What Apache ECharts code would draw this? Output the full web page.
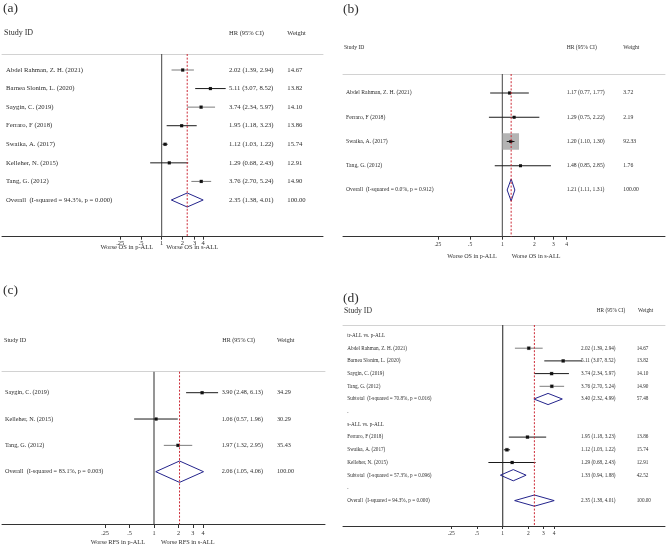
<!DOCTYPE html>
<html><head><meta charset="utf-8">
<script src="https://cdn.jsdelivr.net/npm/echarts@6/dist/echarts.min.js"></script>
<style>html,body{margin:0;padding:0;background:#fff}#c{width:667px;height:547px}</style>
</head><body><div id="c"></div>
<script>
// ---------------- DATA ----------------
const ticksHR = [0.25, 0.5, 1, 2, 3, 4];
const tickLabels = ['.25', '.5', '1', '2', '3', '4'];
const headers = ['Study ID', 'HR (95% CI)', 'Weight'];
const panelLabels = ['(a)', '(b)', '(c)', '(d)'];

// (a) OS, s-ALL vs p-ALL
const studiesA = ['Abdel Rahman, Z. H. (2021)', 'Barnea Slonim, L. (2020)', 'Saygin, C. (2019)', 'Ferraro, F (2018)', 'Swaika, A. (2017)', 'Kelleher, N. (2015)', 'Tang, G. (2012)'];
const hrA = [2.02, 5.11, 3.74, 1.95, 1.12, 1.29, 3.76];
const loA = [1.39, 3.07, 2.34, 1.18, 1.03, 0.68, 2.70];
const hiA = [2.94, 8.52, 5.97, 3.23, 1.22, 2.43, 5.24];
const weightA = [14.67, 13.82, 14.10, 13.86, 15.74, 12.91, 14.90];
const overallA = [2.35, 1.38, 4.01, 100.00];
const overallLabelA = 'Overall  (I-squared = 94.3%, p = 0.000)';
const axisTitlesA = ['Worse OS in p-ALL', 'Worse OS in s-ALL'];

// (b)
const studiesB = ['Abdel Rahman, Z. H. (2021)', 'Ferraro, F (2018)', 'Swaika, A. (2017)', 'Tang, G. (2012)'];
const hrB = [1.17, 1.29, 1.20, 1.48];
const loB = [0.77, 0.75, 1.10, 0.85];
const hiB = [1.77, 2.22, 1.30, 2.85];
const weightB = [3.72, 2.19, 92.33, 1.76];
const overallB = [1.21, 1.11, 1.31, 100.00];
const overallLabelB = 'Overall  (I-squared = 0.0%, p = 0.912)';
const axisTitlesB = ['Worse OS in p-ALL', 'Worse OS in s-ALL'];

// (c) RFS
const studiesC = ['Saygin, C. (2019)', 'Kelleher, N. (2015)', 'Tang, G. (2012)'];
const hrC = [3.90, 1.06, 1.97];
const loC = [2.48, 0.57, 1.32];
const hiC = [6.13, 1.96, 2.95];
const weightC = [34.29, 30.29, 35.43];
const overallC = [2.06, 1.05, 4.06, 100.00];
const overallLabelC = 'Overall  (I-squared = 83.1%, p = 0.003)';
const axisTitlesC = ['Worse RFS in p-ALL', 'Worse RFS in s-ALL'];

// (d) subgroups
const groupLabelsD = ['tr-ALL vs. p-ALL', 's-ALL vs. p-ALL'];
const studiesD1 = ['Abdel Rahman, Z. H. (2021)', 'Barnea Slonim, L. (2020)', 'Saygin, C. (2019)', 'Tang, G. (2012)'];
const hrD1 = [2.02, 5.11, 3.74, 3.76];
const loD1 = [1.39, 3.07, 2.34, 2.70];
const hiD1 = [2.94, 8.52, 5.97, 5.24];
const weightD1 = [14.67, 13.82, 14.10, 14.90];
const subtotalD1 = [3.40, 2.32, 4.99, 57.48];
const subtotalLabelD1 = 'Subtotal  (I-squared = 70.8%, p = 0.016)';
const studiesD2 = ['Ferraro, F (2018)', 'Swaika, A. (2017)', 'Kelleher, N. (2015)'];
const hrD2 = [1.95, 1.12, 1.29];
const loD2 = [1.18, 1.03, 0.68];
const hiD2 = [3.23, 1.22, 2.43];
const weightD2 = [13.86, 15.74, 12.91];
const subtotalD2 = [1.33, 0.94, 1.88, 42.52];
const subtotalLabelD2 = 'Subtotal  (I-squared = 57.3%, p = 0.096)';
const overallD = [2.35, 1.38, 4.01, 100.00];
const overallLabelD = 'Overall  (I-squared = 94.3%, p = 0.000)';

// ---------------- BUILD ROWS ----------------
function studyRows(names, hr, lo, hi, w) {
  return names.map((n, i) => ({type: 'study', name: n, est: hr[i], lo: lo[i], hi: hi[i], w: w[i]}));
}
function pooledRow(label, arr) {
  return {type: 'pooled', name: label, est: arr[0], lo: arr[1], hi: arr[2], w: arr[3]};
}
const rowsA = [...studyRows(studiesA, hrA, loA, hiA, weightA), pooledRow(overallLabelA, overallA)];
const rowsB = [...studyRows(studiesB, hrB, loB, hiB, weightB), pooledRow(overallLabelB, overallB)];
const rowsC = [...studyRows(studiesC, hrC, loC, hiC, weightC), pooledRow(overallLabelC, overallC)];
const rowsD = [
  {type: 'label', name: groupLabelsD[0]},
  ...studyRows(studiesD1, hrD1, loD1, hiD1, weightD1),
  pooledRow(subtotalLabelD1, subtotalD1),
  {type: 'label', name: '.'},
  {type: 'label', name: groupLabelsD[1]},
  ...studyRows(studiesD2, hrD2, loD2, hiD2, weightD2),
  pooledRow(subtotalLabelD2, subtotalD2),
  {type: 'label', name: '.'},
  pooledRow(overallLabelD, overallD)
];

// ---------------- LAYOUT (pixels) ----------------
const FONT = '"Liberation Serif","Times New Roman",serif';
const TXT = '#2e2e2e';
const panels = [
  {rows: rowsA, overall: overallA, titles: axisTitlesA,
   L: {left: 2, right: 323, one: 161.7, ppu: 20.7, top: 54, bottom: 236.7, y0: 70, dy: 18.57,
       labelX: 3, labelY: 8, idX: 4, nameX: 6, hrX: 229, wX: 287.3, headY: 33, headHrX: 229, headWX: 287.3,
       idFont: 8, headFont: 6.5, rowFont: 6.7, tickFont: 6.5, tickLen: 3, tickMargin: 3,
       titleY: 247.5, titleFont: 6.5, gapL: 8.5, gapR: 4.5, dia: 7, boxK: 0.9,
       refColor: '#444', refWidth: 1, grayRows: [0, 2, 6]}},
  {rows: rowsB, overall: overallB, titles: axisTitlesB,
   L: {left: 343, right: 665, one: 502.3, ppu: 32.2, top: 74, bottom: 236.7, y0: 93, dy: 24.25,
       labelX: 343, labelY: 9, idX: 344, nameX: 346, hrX: 566.7, wX: 623.3, headY: 47.3, headHrX: 566.7, headWX: 623.3,
       idFont: 5.6, headFont: 5.6, rowFont: 5.7, tickFont: 5.6, tickLen: 3, tickMargin: 5,
       titleY: 256, titleFont: 6.1, gapL: 5.6, gapR: 9.4, dia: 11, boxK: 1.72,
       refColor: '#444', refWidth: 1, grayRows: []}},
  {rows: rowsC, overall: overallC, titles: axisTitlesC,
   L: {left: 2, right: 325, one: 154, ppu: 24.5, top: 371.7, bottom: 524, y0: 392.7, dy: 26.33,
       labelX: 3, labelY: 290, idX: 4, nameX: 5, hrX: 221.7, wX: 277, headY: 340, headHrX: 222.3, headWX: 277,
       idFont: 6.1, headFont: 6.1, rowFont: 6.2, tickFont: 6.2, tickLen: 4, tickMargin: 6,
       titleY: 542.7, titleFont: 6.3, gapL: 9, gapR: 7, dia: 10.7, boxK: 0.6,
       refColor: '#8a8a8a', refWidth: 1.8, grayRows: [2]}},
  {rows: rowsD, overall: overallD, titles: null,
   L: {left: 343, right: 665, one: 502.7, ppu: 25.7, top: 325, bottom: 526, y0: 335.5, dy: 12.7,
       labelX: 343, labelY: 298, idX: 344, nameX: 347.3, hrX: 581, wX: 636.7, headY: 310.5, headHrX: 596.7, headWX: 638,
       idFont: 7.7, headFont: 5.3, rowFont: 5.2, tickFont: 5.5, tickLen: 3, tickMargin: 5,
       titleY: 0, titleFont: 6, gapL: 6, gapR: 6, dia: 5.6, boxK: 1.0,
       refColor: '#444', refWidth: 1.2, grayRows: [1, 4]}}
];

const log2 = Math.log2;
function labelFor(v) {
  for (let k = 0; k < ticksHR.length; k++) if (Math.abs(log2(ticksHR[k]) - v) < 1e-6) return tickLabels[k];
  return '';
}

const grids = [], xAxes = [], yAxes = [], series = [];
panels.forEach((p, i) => {
  const L = p.L;
  const xmin = (L.left - L.one) / L.ppu, xmax = (L.right - L.one) / L.ppu;
  const ymin = (L.top - L.y0) / L.dy, ymax = (L.bottom - L.y0) / L.dy;
  grids.push({left: L.left, top: L.top, width: L.right - L.left, height: L.bottom - L.top,
              containLabel: false, outerBoundsMode: 'none'});
  const tv = ticksHR.map(log2);
  xAxes.push({gridIndex: i, type: 'value', position: 'bottom', min: xmin, max: xmax,
    axisLine: {show: true, onZero: false, lineStyle: {color: '#333', width: 1}},
    axisTick: {show: true, length: L.tickLen, inside: false, customValues: tv, lineStyle: {color: '#333', width: 1}},
    axisLabel: {show: true, customValues: tv, margin: L.tickMargin, fontSize: L.tickFont, fontFamily: FONT, color: TXT,
                formatter: v => labelFor(v)},
    splitLine: {show: false}});
  xAxes.push({gridIndex: i, type: 'value', position: 'top', min: xmin, max: xmax,
    axisLine: {show: true, onZero: false, lineStyle: {color: '#d2d2d2', width: 1}},
    axisTick: {show: false}, axisLabel: {show: false}, splitLine: {show: false}});
  yAxes.push({gridIndex: i, type: 'value', inverse: true, min: ymin, max: ymax, show: false});
  const xi = 2 * i, yi = i;

  // vertical line at HR = 1
  series.push({type: 'custom', coordinateSystem: 'cartesian2d', xAxisIndex: xi, yAxisIndex: yi, z: 1, silent: true,
    data: [[log2(1), 0]],
    renderItem: (params, api) => {
      const cs = params.coordSys; const x = api.coord([api.value(0), 0])[0];
      return {type: 'line', shape: {x1: x, y1: cs.y, x2: x, y2: cs.y + cs.height},
              style: {stroke: L.refColor, lineWidth: L.refWidth}};
    }});

  // study CIs, weight boxes, points
  const studies = [];
  p.rows.forEach((r, ri) => { if (r.type === 'study') studies.push([log2(r.est), ri, log2(r.lo), log2(r.hi), r.w]); });
  series.push({type: 'custom', coordinateSystem: 'cartesian2d', xAxisIndex: xi, yAxisIndex: yi, z: 2, silent: true,
    encode: {x: [0, 2, 3], y: 1},
    data: studies,
    renderItem: (params, api) => {
      const row = api.value(1);
      const c = api.coord([api.value(0), row]);
      const a = api.coord([api.value(2), row]);
      const b = api.coord([api.value(3), row]);
      const bs = L.boxK * Math.sqrt(api.value(4));
      const gray = L.grayRows.includes(row);
      return {type: 'group', children: [
        {type: 'rect', shape: {x: c[0] - bs / 2, y: c[1] - bs / 2, width: bs, height: bs}, style: {fill: '#b4b4b4'}},
        {type: 'line', shape: {x1: a[0], y1: a[1], x2: b[0], y2: b[1]}, style: {stroke: gray ? '#7d7d7d' : '#1a1a1a', lineWidth: 1}},
        {type: 'rect', shape: {x: c[0] - 1.5, y: c[1] - 1.5, width: 3, height: 3}, style: {fill: '#111'}}
      ]};
    }});

  // pooled diamonds
  const pooled = [];
  p.rows.forEach((r, ri) => { if (r.type === 'pooled') pooled.push([log2(r.est), ri, log2(r.lo), log2(r.hi)]); });
  series.push({type: 'custom', coordinateSystem: 'cartesian2d', xAxisIndex: xi, yAxisIndex: yi, z: 2, silent: true,
    encode: {x: [0, 2, 3], y: 1},
    data: pooled,
    renderItem: (params, api) => {
      const row = api.value(1);
      const c = api.coord([api.value(0), row]);
      const a = api.coord([api.value(2), row]);
      const b = api.coord([api.value(3), row]);
      const h = L.dia;
      return {type: 'polygon', shape: {points: [[a[0], a[1]], [c[0], c[1] - h], [b[0], b[1]], [c[0], c[1] + h]]},
              style: {fill: 'rgba(255,255,255,0)', stroke: '#24248c', lineWidth: 1}};
    }});

  // red dashed line at overall estimate
  series.push({type: 'custom', coordinateSystem: 'cartesian2d', xAxisIndex: xi, yAxisIndex: yi, z: 3, silent: true,
    data: [[log2(p.overall[0]), 0]],
    renderItem: (params, api) => {
      const cs = params.coordSys; const x = api.coord([api.value(0), 0])[0];
      return {type: 'line', shape: {x1: x, y1: cs.y, x2: x, y2: cs.y + cs.height},
              style: {stroke: '#cc2a36', lineWidth: 1, lineDash: [2, 1.6]}};
    }});

  // texts
  const items = [];
  items.push({x: L.labelX, y: L.labelY, text: panelLabels[i], size: 13.5});
  items.push({x: L.idX, y: L.headY, text: headers[0], size: L.idFont});
  items.push({x: L.headHrX, y: L.headY, text: headers[1], size: L.headFont});
  items.push({x: L.headWX, y: L.headY, text: headers[2], size: L.headFont});
  p.rows.forEach((r, ri) => {
    items.push({x: L.nameX, row: ri, text: r.name, size: L.rowFont});
    if (r.type !== 'label') {
      items.push({x: L.hrX, row: ri, text: r.est.toFixed(2) + ' (' + r.lo.toFixed(2) + ', ' + r.hi.toFixed(2) + ')', size: L.rowFont});
      items.push({x: L.wX, row: ri, text: r.w.toFixed(2), size: L.rowFont});
    }
  });
  if (p.titles) {
    items.push({x: L.one - L.gapL, y: L.titleY, text: p.titles[0], size: L.titleFont, align: 'right'});
    items.push({x: L.one + L.gapR, y: L.titleY, text: p.titles[1], size: L.titleFont, align: 'left'});
  }
  series.push({type: 'custom', coordinateSystem: 'cartesian2d', xAxisIndex: xi, yAxisIndex: yi, z: 4, silent: true, clip: false,
    data: items.map(it => [0, it.row !== undefined ? it.row : 0]),
    renderItem: (params, api) => {
      const it = items[params.dataIndex];
      const y = it.row !== undefined ? api.coord([0, it.row])[1] : it.y;
      return {type: 'text', x: it.x, y: y,
              style: {text: it.text, fill: TXT, fontSize: it.size, fontFamily: FONT,
                      align: it.align || 'left', verticalAlign: 'middle'}};
    }});
});

const chart = echarts.init(document.getElementById('c'), null, {renderer: 'canvas', width: 667, height: 547});
chart.setOption({
  animation: false,
  backgroundColor: '#ffffff',
  grid: grids, xAxis: xAxes, yAxis: yAxes, series: series
});
</script>
</body></html>
